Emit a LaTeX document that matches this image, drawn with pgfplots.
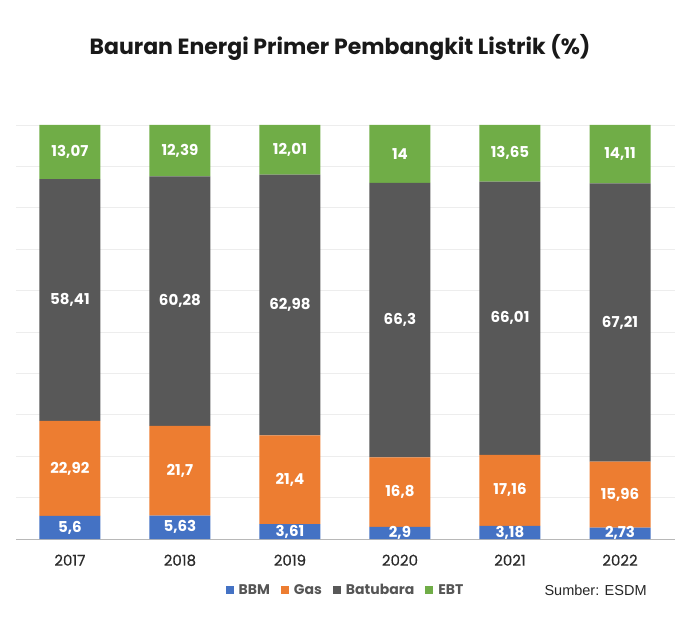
\documentclass[border=0pt]{standalone}
\usepackage{pgfplots}
\pgfplotsset{compat=1.18}
\usepackage{fontspec}
\setmainfont{Poppins}
\newfontfamily\medfont[FakeBold=0.5]{Poppins}
\newfontfamily\srcfont{Liberation Sans}
\definecolor{bbm}{HTML}{4472C4}
\definecolor{gas}{HTML}{ED7D31}
\definecolor{bat}{HTML}{585858}
\definecolor{ebt}{HTML}{70AD47}
\definecolor{txt}{HTML}{2B2B2B}
\definecolor{leg}{HTML}{555555}
\begin{document}
\begin{tikzpicture}
\path[use as bounding box] (0,0) rectangle (675pt,619pt);
\node[font=\bfseries\fontsize{22}{26}\selectfont, text=black!90] at (340pt,572pt) {Bauran Energi Primer Pembangkit Listrik (\%)};
\begin{axis}[
  at={(16pt,80pt)}, anchor=south west, scale only axis,
  width=659pt, height=414pt,
  ybar stacked, bar width=61pt,
  xmin=-0.49, xmax=5.5, ymin=0, ymax=100,
  xtick={0,1,2,3,4,5},
  xticklabels={2017,2018,2019,2020,2021,2022},
  xticklabel style={font=\medfont\fontsize{15}{18}\selectfont, text=txt, yshift=-10pt},
  ytick={0,10,...,100}, yticklabels={},
  ymajorgrids, grid style={color=black!7, line width=0.8pt},
  axis x line=bottom, axis y line=left,
  x axis line style={-, color=black!28, line width=1pt},
  y axis line style={draw=none},
  xtick style={draw=none}, ytick style={draw=none},
  legend style={at={(0.5,-0.123)}, anchor=center, draw=none, fill=none,
    legend columns=-1, font=\bfseries\fontsize{14}{16}\selectfont, text=leg,
    nodes={inner xsep=2pt},
    /tikz/every odd column/.append style={column sep=3pt},
    /tikz/every even column/.append style={column sep=9pt}},
  legend image code/.code={\fill[#1,draw=none] (0pt,-4pt) rectangle (8pt,4pt);},
]
\addplot[fill=bbm, draw=none] coordinates {(0,5.6) (1,5.63) (2,3.61) (3,2.9) (4,3.18) (5,2.73)};
\addplot[fill=gas, draw=none] coordinates {(0,22.92) (1,21.7) (2,21.4) (3,16.8) (4,17.16) (5,15.96)};
\addplot[fill=bat, draw=none] coordinates {(0,58.41) (1,60.28) (2,62.98) (3,66.3) (4,66.01) (5,67.21)};
\addplot[fill=ebt, draw=none] coordinates {(0,13.07) (1,12.39) (2,12.01) (3,14) (4,13.65) (5,14.11)};
\legend{BBM,Gas,Batubara,EBT}
\end{axis}
\begin{axis}[
  at={(16pt,80pt)}, anchor=south west, scale only axis,
  width=659pt, height=414pt,
  xmin=-0.49, xmax=5.5, ymin=0, ymax=100, hide axis,
]
\addplot[draw=none, mark=none, nodes near coords, point meta=explicit symbolic,
  every node near coord/.append style={anchor=center, text=white, font=\bfseries\fontsize{15}{17}\selectfont}]
  table[meta=label] {
x y label
0 2.8 5,6
0 17.06 22,92
0 57.725 58,41
0 93.465 13,07
1 2.815 5,63
1 16.48 21,7
1 57.47 60,28
1 93.705 12,39
2 1.805 3,61
2 14.31 21,4
2 56.5 62,98
2 93.995 12,01
3 1.45 2,9
3 11.3 16,8
3 52.85 66,3
3 93 14
4 1.59 3,18
4 11.76 17,16
4 53.345 66,01
4 93.175 13,65
5 1.365 2,73
5 10.71 15,96
5 52.295 67,21
5 92.955 14,11
};
\end{axis}
\node[font=\srcfont\fontsize{14.5}{17}\selectfont, text=black!85, anchor=west] at (541pt,29pt) {Sumber: ESDM};
\end{tikzpicture}
\end{document}
